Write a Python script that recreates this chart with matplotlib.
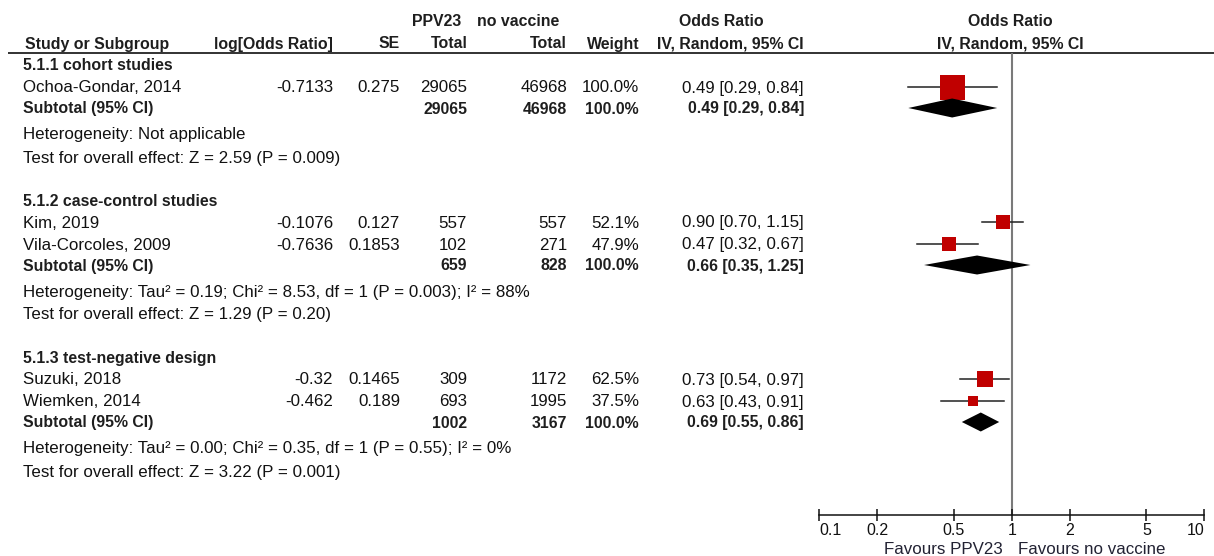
import matplotlib
matplotlib.use("Agg")
import matplotlib.pyplot as plt
from matplotlib import font_manager
import numpy as np

_avail = {f.name for f in font_manager.fontManager.ttflist}
_fam = [f for f in ['Liberation Sans', 'Arimo', 'Arial'] if f in _avail] + ['DejaVu Sans']
plt.rcParams['font.family'] = _fam

# ---------------- data ----------------
group_titles = ["5.1.1 cohort studies", "5.1.2 case-control studies", "5.1.3 test-negative design"]

study_names = ["Ochoa-Gondar, 2014", "Kim, 2019", "Vila-Corcoles, 2009", "Suzuki, 2018", "Wiemken, 2014"]
study_group = [0, 1, 1, 2, 2]
log_or = [-0.7133, -0.1076, -0.7636, -0.32, -0.462]
se = [0.275, 0.127, 0.1853, 0.1465, 0.189]
n_ppv23 = [29065, 557, 102, 309, 693]
n_novax = [46968, 557, 271, 1172, 1995]
weight = [100.0, 52.1, 47.9, 62.5, 37.5]
or_est = [0.49, 0.90, 0.47, 0.73, 0.63]
or_lo = [0.29, 0.70, 0.32, 0.54, 0.43]
or_hi = [0.84, 1.15, 0.67, 0.97, 0.91]

sub_ppv23 = [29065, 659, 1002]
sub_novax = [46968, 828, 3167]
sub_weight = [100.0, 100.0, 100.0]
sub_or = [0.49, 0.66, 0.69]
sub_lo = [0.29, 0.35, 0.55]
sub_hi = [0.84, 1.25, 0.86]

heterogeneity = [
    "Heterogeneity: Not applicable",
    "Heterogeneity: Tau\u00b2 = 0.19; Chi\u00b2 = 8.53, df = 1 (P = 0.003); I\u00b2 = 88%",
    "Heterogeneity: Tau\u00b2 = 0.00; Chi\u00b2 = 0.35, df = 1 (P = 0.55); I\u00b2 = 0%",
]
overall = [
    "Test for overall effect: Z = 2.59 (P = 0.009)",
    "Test for overall effect: Z = 1.29 (P = 0.20)",
    "Test for overall effect: Z = 3.22 (P = 0.001)",
]

tick_values = [0.1, 0.2, 0.5, 1, 2, 5, 10]
tick_labels = ["0.1", "0.2", "0.5", "1", "2", "5", "10"]
favours_left = "Favours PPV23"
favours_right = "Favours no vaccine"

# ---------------- layout ----------------
W, H = 1214, 556
FS = 12.2
FSB = 11.4
BASE = 5.5
TXT = "#111111"
BOLD = "#1e1e1e"

fig = plt.figure(figsize=(W / 100, H / 100), dpi=100)
ax = fig.add_axes([0, 0, 1, 1])
ax.set_xlim(0, W)
ax.set_ylim(H, 0)
ax.axis('off')


def txt(x, yc, s, ha='left', bold=False):
    ax.text(x, yc + BASE, s, ha=ha, va='baseline', fontsize=FSB if bold else FS,
            fontweight='bold' if bold else 'normal', color=BOLD if bold else TXT)


# columns (right edges)
X_NAME = 23
X_LOG = 333
X_SE = 400
X_N1 = 467
X_N2 = 567
X_W = 639
X_OR = 804

# headers
txt(461, 20, "PPV23", ha='right', bold=True)
txt(559, 20, "no vaccine", ha='right', bold=True)
txt(721, 20, "Odds Ratio", ha='center', bold=True)
txt(1010, 20, "Odds Ratio", ha='center', bold=True)
txt(25, 43, "Study or Subgroup", bold=True)
txt(X_LOG, 43, "log[Odds Ratio]", ha='right', bold=True)
txt(X_SE, 43, "SE", ha='right', bold=True)
txt(X_N1 + 1, 43, "Total", ha='right', bold=True)
txt(X_N2, 43, "Total", ha='right', bold=True)
txt(X_W + 1, 43, "Weight", ha='right', bold=True)
txt(X_OR, 43, "IV, Random, 95% CI", ha='right', bold=True)
txt(1010, 43, "IV, Random, 95% CI", ha='center', bold=True)
ax.plot([8, W], [53, 53], color='#222222', lw=1.3, solid_capstyle='butt')

# forest axes (log scale), y in pixels
X0, X1 = 819.3, 1204.3
fax = fig.add_axes([X0 / W, 0, (X1 - X0) / W, 1])
fax.set_xscale('log')
fax.set_xlim(0.1, 10)
fax.set_ylim(H, 0)
fax.patch.set_alpha(0)
for s in ['top', 'left', 'right']:
    fax.spines[s].set_visible(False)
fax.spines['bottom'].set_position(('data', 515))
fax.spines['bottom'].set_linewidth(1.1)
fax.spines['bottom'].set_color('#111111')
fax.set_yticks([])
fax.set_xticks(tick_values)
fax.set_xticklabels(tick_labels)
fax.minorticks_off()
fax.tick_params(axis='x', which='major', direction='inout', length=8, width=1.1,
                color='#111111', labelsize=11.5, labelcolor=TXT, pad=1.5)
lbls = fax.get_xticklabels()
lbls[0].set_ha('left')
lbls[-1].set_ha('right')

fax.plot([1, 1], [53, 515], color='#7a7a7a', lw=1.5, solid_capstyle='butt', zorder=1)
ax.text(1003, 548 + BASE, favours_left, ha='right', va='baseline', fontsize=FS, color='#222233')
ax.text(1018, 548 + BASE, favours_right, ha='left', va='baseline', fontsize=FS, color='#222233')

DIAMOND_H = 9.5
y = 65
for g, title in enumerate(group_titles):
    txt(X_NAME, y, title, bold=True)
    y += 22
    idx = [i for i, sg in enumerate(study_group) if sg == g]
    for k, i in enumerate(idx):
        if k > 0:
            y += 22
        txt(X_NAME, y, study_names[i])
        txt(X_LOG, y, str(log_or[i]), ha='right')
        txt(X_SE, y, str(se[i]), ha='right')
        txt(X_N1, y, str(n_ppv23[i]), ha='right')
        txt(X_N2, y, str(n_novax[i]), ha='right')
        txt(X_W, y, "%.1f%%" % weight[i], ha='right')
        txt(X_OR, y, "%.2f [%.2f, %.2f]" % (or_est[i], or_lo[i], or_hi[i]), ha='right')
        fax.plot([or_lo[i], or_hi[i]], [y, y], color='#222222', lw=1.1, zorder=2)
        side_px = 2 + 0.23 * weight[i]
        fax.plot([or_est[i]], [y], marker='s', markersize=side_px * 0.72,
                 color='#c00000', markeredgewidth=0, zorder=3, linestyle='none')
    y += 21
    txt(X_NAME, y, "Subtotal (95% CI)", bold=True)
    txt(X_N1, y, str(sub_ppv23[g]), ha='right', bold=True)
    txt(X_N2, y, str(sub_novax[g]), ha='right', bold=True)
    txt(X_W, y, "%.1f%%" % sub_weight[g], ha='right', bold=True)
    txt(X_OR, y, "%.2f [%.2f, %.2f]" % (sub_or[g], sub_lo[g], sub_hi[g]), ha='right', bold=True)
    fax.fill([sub_lo[g], sub_or[g], sub_hi[g], sub_or[g]],
             [y, y - DIAMOND_H, y, y + DIAMOND_H], color='black', lw=0, zorder=4)
    y += 26
    txt(X_NAME, y, heterogeneity[g])
    y += 23
    txt(X_NAME, y, overall[g])
    y += 43

fig.savefig("out.png", dpi=100)
